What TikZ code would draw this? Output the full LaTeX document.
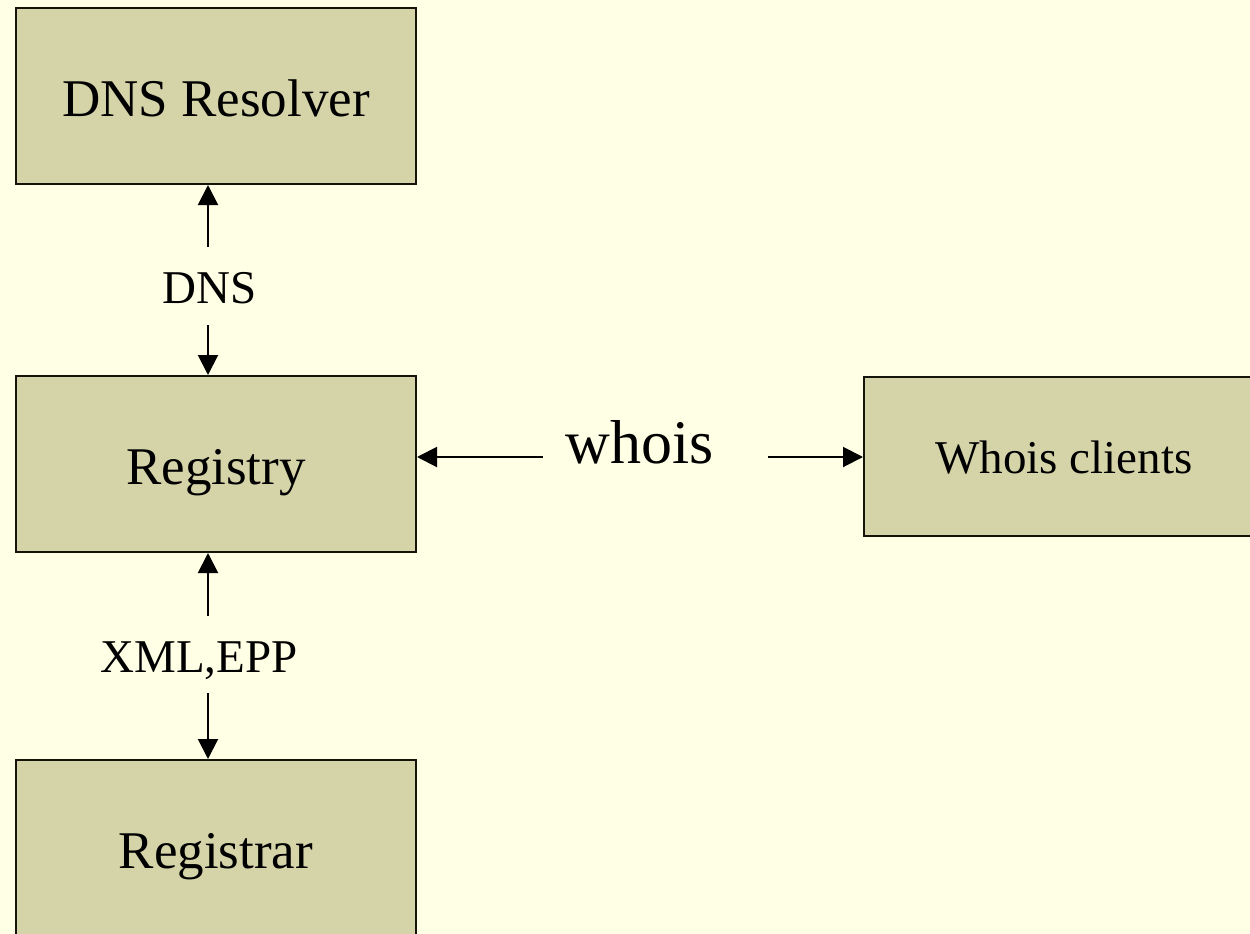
\documentclass[tikz,border=0pt]{standalone}
\usepackage{fontspec}
\setmainfont{Liberation Serif}
\usetikzlibrary{arrows.meta}
\definecolor{bgyellow}{RGB}{255,255,230}
\definecolor{boxkhaki}{RGB}{213,211,168}
\definecolor{boxline}{RGB}{20,20,10}
\tikzset{
  box/.style={draw=boxline, line width=2pt, fill=boxkhaki, inner sep=0pt,
    minimum width=400pt, minimum height=176pt, text depth=0pt, text height=41pt,
    font=\fontsize{53}{60}\selectfont},
  lbl/.style={anchor=base, inner sep=0pt, font=\fontsize{47}{54}\selectfont},
  arr/.style={line width=2pt, -{Triangle[length=20pt,width=20pt]}},
}
\begin{document}
\begin{tikzpicture}[x=1pt,y=-1pt]
\fill[bgyellow] (0,0) rectangle (1250,934);
\useasboundingbox (0,0) rectangle (1250,934);
\clip (0,0) rectangle (1250,934);

\node[box] (res) at (216,96) {DNS Resolver};
\node[box] (reg) at (216,464) {Registry};
\node[box] (rar) at (216,848) {Registrar};
\node[box, minimum height=159pt, text height=33pt, font=\fontsize{47}{54}\selectfont] (cli) at (1064,456.5) {Whois clients};

\node[lbl] (dnslbl) at (210,303) {DNS};
\node[lbl] (xmllbl) at (199,672) {XML,EPP};
\node[lbl, font=\fontsize{62}{70}\selectfont] (whoislbl) at (640,463) {whois};

\coordinate (d1) at (208,247);
\coordinate (d2) at (208,325);
\coordinate (x1) at (208,616);
\coordinate (x2) at (208,693);
\coordinate (w1) at (543,457);
\coordinate (w2) at (768,457);

\draw[arr] (d1) -- (d1 |- res.south);
\draw[arr] (d2) -- (d2 |- reg.north);
\draw[arr] (x1) -- (x1 |- reg.south);
\draw[arr] (x2) -- (x2 |- rar.north);
\draw[arr] (w1) -- (w1 -| reg.east);
\draw[arr] (w2) -- (w2 -| cli.west);
\end{tikzpicture}
\end{document}
